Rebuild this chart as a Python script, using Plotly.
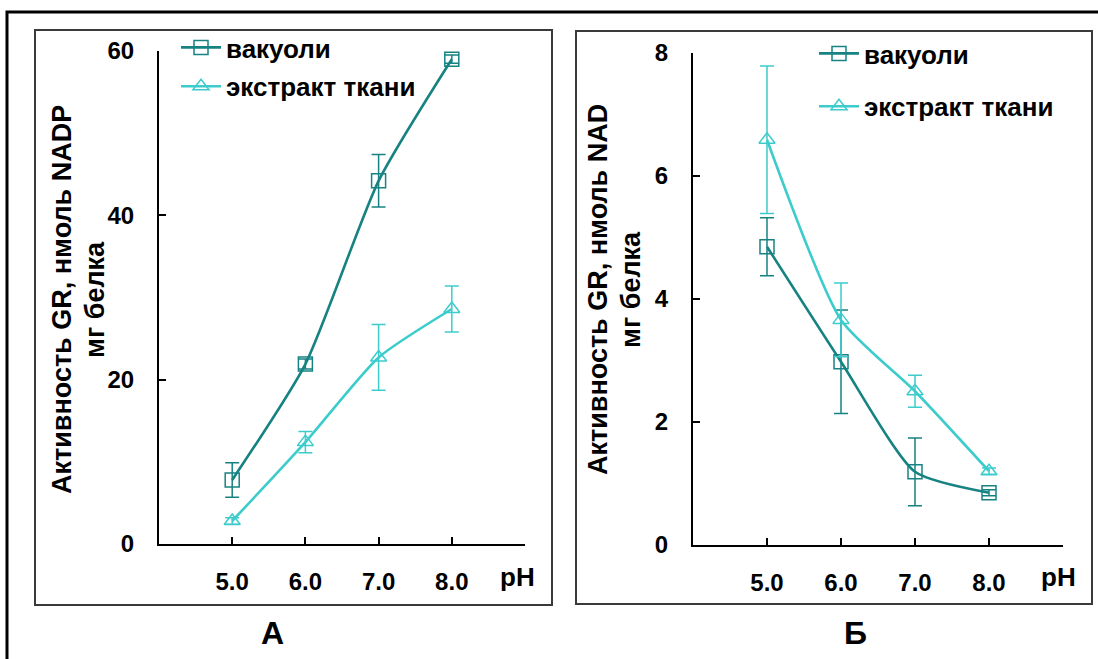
import plotly.graph_objects as go

W, H = 1098, 659

# ---------------- data ----------------
ph = [5.0, 6.0, 7.0, 8.0]

# Panel A (NADP)
a_vac = [7.8, 21.9, 44.2, 59.0]
a_vac_err = [2.1, 0.6, 3.2, 0.5]
a_ext = [2.8, 12.4, 22.7, 28.6]
a_ext_err = [0.4, 1.3, 4.0, 2.8]

# Panel B (NAD)
b_vac = [4.85, 2.98, 1.19, 0.85]
b_vac_err = [0.47, 0.84, 0.55, 0.05]
b_ext = [6.59, 3.66, 2.50, 1.20]
b_ext_err = [1.20, 0.60, 0.26, 0.05]

names = ["вакуоли", "экстракт ткани"]
x_tickvals = [5, 6, 7, 8, 9]
x_ticktext = ["5.0", "6.0", "7.0", "8.0", ""]
a_yticks = [0, 20, 40, 60]
b_yticks = [0, 2, 4, 6, 8]
ytitle_a = ["Активность GR, нмоль NADP", "мг белка"]
ytitle_b = ["Активность GR, нмоль NAD", "мг белка"]
panel_labels = ["А", "Б"]

C_VAC = "#178282"
C_EXT = "#3dcccc"
FONT = "Liberation Sans"


def px(x):
    return x / W


def py(y):
    return 1 - y / H


fig = go.Figure()


def add_series(x, y, err, name, color, symbol, xa, ya, legend):
    fig.add_trace(go.Scatter(
        x=x, y=y, name=name, mode="lines+markers",
        line=dict(color=color, width=2.6, shape="spline", smoothing=0.6),
        marker=dict(symbol=symbol, size=14, color=color,
                    line=dict(color=color, width=1.5)),
        error_y=dict(type="data", array=err, visible=True, color=color,
                     thickness=1.5, width=7),
        xaxis=xa, yaxis=ya, legend=legend, legendgroup=legend + name,
    ))


add_series(ph, a_vac, a_vac_err, names[0], C_VAC, "square-open", "x", "y", "legend")
add_series(ph, a_ext, a_ext_err, names[1], C_EXT, "triangle-up-open", "x", "y", "legend")
add_series(ph, b_vac, b_vac_err, names[0], C_VAC, "square-open", "x2", "y2", "legend2")
add_series(ph, b_ext, b_ext_err, names[1], C_EXT, "triangle-up-open", "x2", "y2", "legend2")

tickfont = dict(family=FONT, size=24, color="black", weight="bold")
xcommon = dict(range=[4, 9], tickvals=x_tickvals, ticktext=x_ticktext,
               showline=True, linecolor="black", linewidth=2,
               ticks="inside", ticklen=7, tickwidth=1.5, tickcolor="black",
               showgrid=False, zeroline=False, tickfont=tickfont,
               ticklabelstandoff=15, automargin=False)
ycommon = dict(showline=True, linecolor="black", linewidth=2,
               ticks="inside", ticklen=7, tickwidth=1.5, tickcolor="black",
               showgrid=False, zeroline=False, tickfont=tickfont,
               ticklabelstandoff=18, automargin=False)

legfont = dict(family=FONT, size=26, color="black", weight="bold")

fig.update_layout(
    width=W, height=H,
    margin=dict(l=0, r=0, t=0, b=0, pad=0, autoexpand=False),
    paper_bgcolor="white", plot_bgcolor="white",
    xaxis=dict(domain=[px(159), px(525)], anchor="y", **xcommon),
    yaxis=dict(domain=[py(544), py(51)], anchor="x", range=[0, 60],
               tickvals=a_yticks, **ycommon),
    xaxis2=dict(domain=[px(693), px(1063)], anchor="y2", **xcommon),
    yaxis2=dict(domain=[py(545), py(53)], anchor="x2", range=[0, 8],
                tickvals=b_yticks, **ycommon),
    legend=dict(x=px(176), y=py(24), xanchor="left", yanchor="top",
                bgcolor="rgba(0,0,0,0)", font=legfont, tracegroupgap=2,
                itemwidth=40),
    legend2=dict(x=px(814), y=py(30), xanchor="left", yanchor="top",
                 bgcolor="rgba(0,0,0,0)", font=legfont, tracegroupgap=16,
                 itemwidth=40),
    showlegend=True,
)

shapes = [
    # outer frame
    dict(type="rect", xref="paper", yref="paper", x0=px(7), y0=py(12),
         x1=1.02, y1=-0.02, line=dict(color="black", width=3)),
    # panel boxes
    dict(type="rect", xref="paper", yref="paper", x0=px(35), y0=py(30),
         x1=px(552), y1=py(605), line=dict(color="#3a3a3a", width=2)),
    dict(type="rect", xref="paper", yref="paper", x0=px(576), y0=py(31),
         x1=px(1092), y1=py(604), line=dict(color="#3a3a3a", width=2)),
]
fig.update_layout(shapes=shapes)

titlefont = dict(family=FONT, size=27, color="black", weight="bold")
ann = []
for lines, xs, yc in [(ytitle_a, [62, 95], 300), (ytitle_b, [598, 631], 290)]:
    for t, xx in zip(lines, xs):
        ann.append(dict(text=t, x=px(xx), y=py(yc), xref="paper", yref="paper",
                        textangle=-90, showarrow=False, font=titlefont,
                        xanchor="center", yanchor="middle"))
for xx in [517, 1058]:
    ann.append(dict(text="pH", x=px(xx), y=py(577), xref="paper", yref="paper",
                    showarrow=False,
                    font=dict(family=FONT, size=26, color="black", weight="bold"),
                    xanchor="center", yanchor="middle"))
for t, xx in zip(panel_labels, [272, 855]):
    ann.append(dict(text=t, x=px(xx), y=py(633), xref="paper", yref="paper",
                    showarrow=False,
                    font=dict(family=FONT, size=32, color="black", weight="bold"),
                    xanchor="center", yanchor="middle"))
fig.update_layout(annotations=ann)

fig.write_html(
    "out.html",
    config={"displayModeBar": False},
    post_script="document.body.style.margin='0';document.body.style.overflow='hidden';",
)
